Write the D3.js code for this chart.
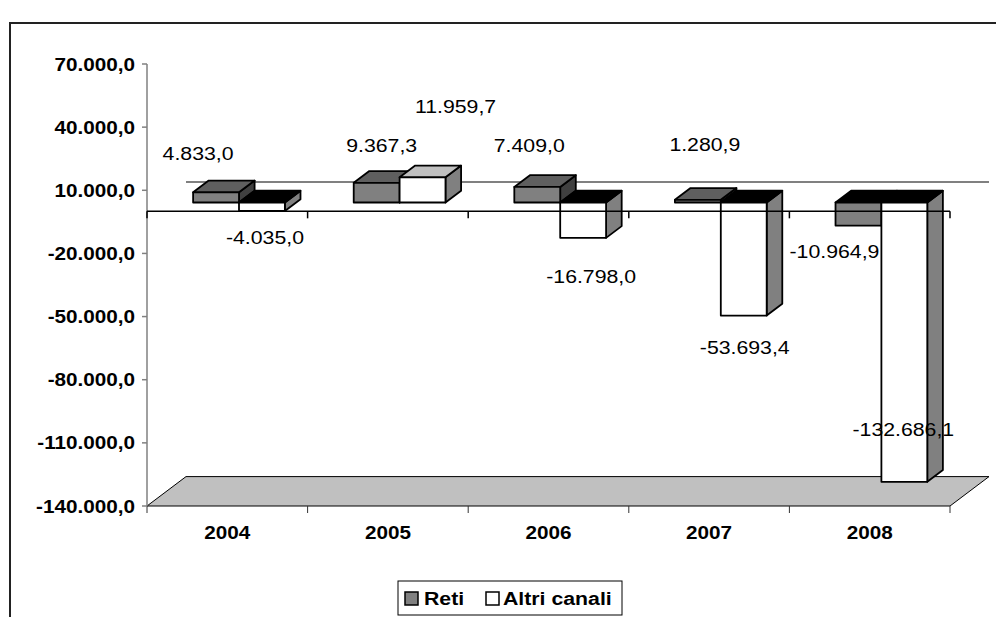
<!DOCTYPE html>
<html>
<head>
<meta charset="utf-8">
<script src="https://cdn.jsdelivr.net/npm/d3@7"></script>
<style>
  html, body { margin: 0; padding: 0; background: #fff; }
  svg { display: block; }
  text { font-family: "Liberation Sans", Arial, sans-serif; fill: #000; }
</style>
</head>
<body>
<svg id="chart" width="996" height="617"></svg>
<script>
// Data
const categories = ["2004", "2005", "2006", "2007", "2008"];
const seriesNames = ["Reti", "Altri canali"];
const reti = [4833.0, 9367.3, 7409.0, 1280.9, -10964.9];
const altriCanali = [-4035.0, 11959.7, -16798.0, -53693.4, -132686.1];
const yTicks = [70000, 40000, 10000, -20000, -50000, -80000, -110000, -140000];

// Layout / styling
const W = 996, H = 617;
const plot = { left: 147, right: 950, top: 64, bottom: 506 };
const depthVec = [39, -29.4];          // full depth of the 3D box
const barDepth = [0.3, 0.7];           // bars occupy the middle of the depth
const textStretch = 1.15;
// label nudges (px) relative to the centre of each bar's front face end
const labelNudge = [
  [[-18, -32], [5, -31], [-8, -35], [7, -49], [-24, 32]],
  [[3, 33], [33, -64], [8, 45], [1, 38], [-1, -46]]
];
const palette = [
  { front: "#808080", topPos: "#5f5f5f", topNeg: "#000000", side: "#404040" },
  { front: "#ffffff", topPos: "#c0c0c0", topNeg: "#000000", side: "#808080" }
];

const locale = d3.formatLocale({ decimal: ",", thousands: ".", grouping: [3], currency: ["€", ""], minus: "-" });
const fmt = locale.format(",.1f");

const svg = d3.select("#chart");

const y = d3.scaleLinear().domain([-140000, 70000]).range([plot.bottom, plot.top]);
const x = d3.scaleBand().domain(categories).range([plot.left, plot.right]).paddingInner(0).paddingOuter(0);
const xs = d3.scaleBand().domain(seriesNames).range([0, x.bandwidth()]).paddingInner(0).paddingOuter(0.75);

// project a point (x at front, value, depth fraction)
const P = (px, v, f) => [px + depthVec[0] * f, y(v) + depthVec[1] * f];
const poly = pts => "M" + pts.map(p => p.join(",")).join("L") + "Z";

// outer frame
svg.append("path")
  .attr("d", `M10,${H + 2}L10,23L${W + 2},23`)
  .attr("fill", "none").attr("stroke", "#222").attr("stroke-width", 2);

// floor
const yMin = y.domain()[0];
svg.append("path")
  .attr("d", poly([P(plot.left, yMin, 0), P(plot.right, yMin, 0), P(plot.right, yMin, 1), P(plot.left, yMin, 1)]))
  .attr("fill", "#c0c0c0").attr("stroke", "#000").attr("stroke-width", 1);

// ticks under the floor edge
const bounds = d3.range(categories.length + 1).map(i => plot.left + i * x.step());
svg.append("g").selectAll("line").data(bounds).join("line")
  .attr("x1", d => d).attr("x2", d => d)
  .attr("y1", plot.bottom).attr("y2", plot.bottom + 7)
  .attr("stroke", "#333").attr("stroke-width", 1);

// back zero line
svg.append("line")
  .attr("x1", P(plot.left, 0, 1)[0]).attr("x2", P(plot.right, 0, 1)[0])
  .attr("y1", P(plot.left, 0, 1)[1]).attr("y2", P(plot.right, 0, 1)[1])
  .attr("stroke", "#808080").attr("stroke-width", 2);

// value axis
const yAxis = svg.append("g");
yAxis.append("line")
  .attr("x1", plot.left).attr("x2", plot.left)
  .attr("y1", y(70000)).attr("y2", plot.bottom)
  .attr("stroke", "#808080").attr("stroke-width", 1.5);
const tk = yAxis.selectAll("g.tick").data(yTicks).join("g").attr("class", "tick");
tk.append("line")
  .attr("x1", plot.left - 5).attr("x2", plot.left)
  .attr("y1", d => y(d)).attr("y2", d => y(d))
  .attr("stroke", "#808080").attr("stroke-width", 1.5);
tk.append("text")
  .attr("transform", d => `translate(${plot.left - 12},${y(d) + 6.5}) scale(${textStretch},1)`)
  .attr("text-anchor", "end")
  .attr("font-size", 18).attr("font-weight", "bold")
  .text(d => fmt(d));

// bars
const series = [reti, altriCanali];
const gBars = svg.append("g");
categories.forEach((cat, i) => {
  series.forEach((vals, s) => {
    const v = vals[i];
    const x0 = x(cat) + xs(seriesNames[s]);
    const x1 = x0 + xs.bandwidth();
    const top = Math.max(v, 0), bot = Math.min(v, 0);
    const [f0, f1] = barDepth;
    const c = palette[s];
    const g = gBars.append("g")
      .attr("stroke", "#000").attr("stroke-width", 1.8).attr("stroke-linejoin", "round");
    g.append("path").attr("fill", c.side)
      .attr("d", poly([P(x1, top, f0), P(x1, top, f1), P(x1, bot, f1), P(x1, bot, f0)]));
    g.append("path").attr("fill", v >= 0 ? c.topPos : c.topNeg)
      .attr("d", poly([P(x0, top, f0), P(x1, top, f0), P(x1, top, f1), P(x0, top, f1)]));
    g.append("path").attr("fill", c.front)
      .attr("d", poly([P(x0, top, f0), P(x1, top, f0), P(x1, bot, f0), P(x0, bot, f0)]));
  });
});

// category axis at zero (front plane)
svg.append("line")
  .attr("x1", plot.left).attr("x2", plot.right)
  .attr("y1", y(0)).attr("y2", y(0))
  .attr("stroke", "#000").attr("stroke-width", 1.5);
svg.append("g").selectAll("line").data(bounds).join("line")
  .attr("x1", d => d).attr("x2", d => d)
  .attr("y1", y(0)).attr("y2", y(0) + 7)
  .attr("stroke", "#000").attr("stroke-width", 1.5);

// category labels
svg.append("g").selectAll("text").data(categories).join("text")
  .attr("transform", d => `translate(${x(d) + x.bandwidth() / 2},539) scale(${textStretch},1)`)
  .attr("text-anchor", "middle")
  .attr("font-size", 18).attr("font-weight", "bold")
  .text(d => d);

// data labels
const gLab = svg.append("g");
series.forEach((vals, s) => {
  vals.forEach((v, i) => {
    const x0 = x(categories[i]) + xs(seriesNames[s]);
    const [cx, cy] = P(x0 + xs.bandwidth() / 2, v, barDepth[0]);
    const [nx, ny] = labelNudge[s][i];
    gLab.append("text")
      .attr("transform", `translate(${cx + nx},${cy + ny}) scale(${textStretch},1)`)
      .attr("text-anchor", "middle")
      .attr("font-size", 18.5)
      .text(fmt(v));
  });
});

// legend
const lg = svg.append("g");
lg.append("rect").attr("x", 398).attr("y", 581).attr("width", 224).attr("height", 34)
  .attr("fill", "#fff").attr("stroke", "#000").attr("stroke-width", 1);
const legendItems = [
  { name: seriesNames[0], fill: palette[0].front, sx: 405, tx: 424 },
  { name: seriesNames[1], fill: palette[1].front, sx: 486, tx: 503 }
];
legendItems.forEach(it => {
  lg.append("rect").attr("x", it.sx).attr("y", 592).attr("width", 13).attr("height", 13)
    .attr("fill", it.fill).attr("stroke", "#000").attr("stroke-width", 1.5);
  lg.append("text")
    .attr("transform", `translate(${it.tx},605) scale(${textStretch},1)`)
    .attr("font-size", 18.5).attr("font-weight", "bold")
    .text(it.name);
});
</script>
</body>
</html>
